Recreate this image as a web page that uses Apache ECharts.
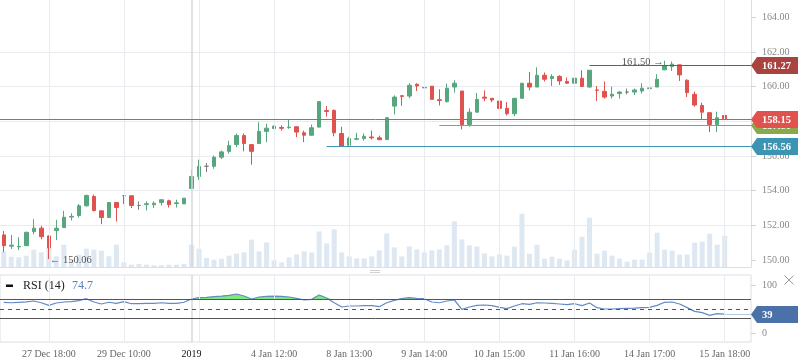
<!DOCTYPE html>
<html><head><meta charset="utf-8">
<script src="https://cdn.jsdelivr.net/npm/echarts@6/dist/echarts.min.js"></script>
<style>html,body{margin:0;padding:0;background:#fff;}#c{width:798px;height:363px;}</style>
</head><body><div id="c"></div>
<script>
// ---------- data ----------
const openP  = [151.45,150.80,150.76,150.83,151.64,151.84,151.39,151.70,151.87,152.48,152.57,153.13,153.67,152.84,152.45,153.32,153.71,153.71,153.15,153.20,153.19,153.32,153.42,153.26,153.24,154.13,154.82,155.41,155.41,155.93,156.27,156.66,157.18,156.66,156.72,157.42,157.59,157.65,157.64,157.69,157.34,157.20,157.67,158.62,158.63,157.30,156.62,156.97,157.01,157.10,157.05,156.95,158.88,159.48,159.46,160.14,159.93,160.03,159.25,159.14,159.98,159.75,157.82,158.53,159.40,159.33,159.17,158.75,158.44,159.33,160.20,159.98,160.66,160.47,160.59,160.30,160.20,160.49,159.98,159.81,159.73,159.46,159.60,159.69,159.69,159.75,159.89,159.98,160.97,161.16,161.26,160.37,159.56,158.92,158.50,157.82,158.34];
const closeP = [150.83,150.86,150.79,151.60,151.84,151.35,150.70,151.84,152.47,152.52,153.13,153.73,152.86,152.45,153.32,153.03,153.71,153.15,153.15,153.25,153.28,153.48,153.19,153.30,153.57,154.82,155.40,155.41,155.93,156.24,156.60,157.18,156.72,156.27,157.42,157.61,157.72,157.60,157.67,157.38,157.20,157.63,159.14,158.57,157.34,156.56,157.01,157.00,157.14,157.05,156.94,158.21,159.40,159.44,160.08,160.04,159.96,159.27,159.21,159.91,160.20,157.82,158.53,159.27,159.34,159.23,158.75,158.44,159.33,160.20,159.98,160.66,160.43,160.59,160.33,160.20,160.49,160.01,160.95,159.79,159.40,159.56,159.69,159.69,159.81,159.91,159.93,160.43,161.20,161.30,160.68,159.66,158.94,158.53,157.82,158.21,158.15];
const lowP   = [150.45,150.64,150.58,150.81,151.49,151.20,150.06,151.16,151.87,152.28,152.45,153.09,152.80,152.07,152.43,152.22,153.24,153.00,152.90,152.86,153.00,153.15,153.03,153.03,153.24,154.13,154.63,155.08,155.27,155.83,156.14,156.51,156.27,155.50,156.72,156.80,157.55,157.47,157.57,157.09,156.80,157.18,157.65,158.27,157.14,156.56,156.60,156.91,156.89,156.95,156.93,156.95,158.40,158.90,159.33,159.75,159.89,159.27,158.92,159.08,159.66,157.53,157.69,158.53,159.17,159.11,158.56,158.34,158.30,159.33,159.79,159.98,160.30,160.04,160.10,160.18,159.89,160.01,159.94,159.17,159.31,159.31,159.31,159.56,159.52,159.60,159.40,159.98,160.97,160.91,160.33,159.40,158.85,158.07,157.38,157.38,157.95];
const highP  = [151.68,151.45,151.32,151.64,152.36,151.97,151.42,152.32,152.84,152.70,153.23,153.77,153.77,152.84,153.35,153.35,153.71,153.71,153.38,153.38,153.38,153.48,153.48,153.48,153.57,155.21,155.79,155.60,156.03,156.32,156.89,157.30,157.30,156.66,157.95,157.86,157.77,157.78,158.11,157.69,157.47,157.82,159.16,158.88,158.69,157.69,157.11,157.34,157.30,157.47,157.18,158.21,159.50,159.50,160.20,160.20,160.37,160.03,159.85,160.18,160.37,159.75,158.75,159.64,159.79,159.33,159.33,159.11,159.33,160.20,160.85,161.12,160.82,160.72,160.66,160.53,160.49,160.95,160.95,160.04,160.30,160.01,159.75,159.89,159.89,160.20,160.20,160.72,161.50,161.45,161.26,160.43,159.72,159.08,158.50,158.56,158.73];
const volume = [15.6,10.3,9.7,11.3,17.3,14.7,19,10.7,22.3,7.3,12.3,18.3,17.3,16.3,10.7,22.3,4.7,2.3,3,2.3,1.7,1.7,2.3,2.3,3,22.3,18.3,9,7.3,8.3,11.3,13.3,14.7,27.3,15.6,24.6,6.6,4.6,9.6,12.6,15.6,14.6,35.6,23.6,37.6,14.6,10.6,8.6,8.6,10.6,16.6,33.6,19.6,10.6,20.6,17.6,14.6,16.6,17.6,21.6,45.6,27.6,21.6,20.6,13.6,10.6,12.6,11.3,20.3,53.3,13.3,22.3,8.3,10.3,8.3,6.6,17.3,30.3,49.3,13.3,16.3,11.3,8.3,5.3,7.3,7.3,14.3,34.3,17.3,16.3,12.3,12.3,24.3,25.3,33.3,22.3,31.3];
const rsi = [64,63,64,65,66.7,63,57.6,62.5,64.6,65.3,67.4,71.5,64.6,60.4,64,61.8,65.3,61,61,61.8,61.8,63,61.8,61.8,64,70.8,73.6,74.3,75.7,77,78.5,81.2,77,70.8,75,76.4,77,76.4,75,72.2,68.75,70.1,79.2,72.9,63,54.2,56.25,56.25,56.9,56.9,54.8,63,68,71.5,73.6,72.2,71.5,64.6,63,66.7,68.75,49.3,54.2,57.6,58.3,56.9,53.5,50.7,56.25,61,59.7,63,62.5,61.8,60.4,59,61,56.9,62.5,52.8,50,50,50.7,51.4,52,52.8,53.5,57.6,64,64.6,60.4,52.8,45.1,42.4,36.8,40.2,39.2];
const categoryCount = 100;
const tickIndex  = [6,16,25,36,46,56,66,76,86,96];
const tickLabels = ['27 Dec 18:00','29 Dec 10:00','2019','4 Jan 12:00','8 Jan 13:00','9 Jan 14:00','10 Jan 15:00','11 Jan 16:00','14 Jan 17:00','15 Jan 18:00'];
const gridIndexLines = [6,16,26,36,46,56,66,76,86,96];
const yearIndex = 25;
const priceTicks = [150,152,154,156,158,160,162,164];
const rsiTicks = [0,100];
const rsiLevels = [70,50,30];
const levelValues = [156.56,157.80,158.15,161.27];
const levelStart  = [43,58,0,78];
const highMarkIndex = 88;
const lowMarkIndex = 6;
const rsiLegendValue = '74.7';

// ---------- build ----------
const FF = '"Liberation Serif", "Times New Roman", serif';
const UP = '#58a67e', DOWN = '#e0524e';
const levelColors = ['#3c93b2','#8aa84c','#e0524e','#a8433f'];
const categories = Array.from({length: categoryCount}, (_, i) => String(i));
const labelAt = {}; tickIndex.forEach((ix, k) => labelAt[ix] = tickLabels[k]);
const lastIdx = openP.length - 1;
const candleData = openP.map((o, i) => [o, closeP[i], lowP[i], highP[i]]);

function tagItem(api, value, color, text, fullStart) {
  const p0 = api.coord([api.value(0), value]);
  const half = api.size([1, 0])[0] / 2;
  const pEnd = api.coord([categoryCount - 1, value]);
  const x1 = pEnd[0] + half;
  const x0 = fullStart ? p0[0] - half : p0[0];
  const y = Math.round(p0[1]) + 0.5;
  const h = 8.5;
  return [
    {type: 'line', shape: {x1: x0, y1: y, x2: x1, y2: y}, style: {stroke: color.line, lineWidth: 1}},
    {type: 'polygon', shape: {points: [[x1, y], [x1 + 6, y - h], [x1 + 47, y - h], [x1 + 47, y + h], [x1 + 6, y + h]]}, style: {fill: color.tag}},
    {type: 'text', style: {text: text, x: x1 + 11, y: y + 0.5, align: 'left', verticalAlign: 'middle', fill: '#fff', font: 'bold 10.5px ' + FF}}
  ];
}

const option = {
  animation: false,
  backgroundColor: '#fff',
  grid: [
    {left: 0, right: 47, top: 0, height: 267},
    {left: 0, right: 47, top: 275, height: 67, show: true, borderColor: '#dadfe5', borderWidth: 1}
  ],
  xAxis: [
    {type: 'category', gridIndex: 0, data: categories, boundaryGap: true,
     axisLine: {show: true, lineStyle: {color: '#dadfe5'}}, axisTick: {show: false}, axisLabel: {show: false}, splitLine: {show: false}},
    {type: 'category', gridIndex: 1, data: categories, boundaryGap: true,
     axisLine: {show: false}, axisTick: {show: false}, splitLine: {show: false},
     axisLabel: {show: true, interval: 0, margin: 7, color: '#666', fontSize: 10, fontFamily: FF,
       formatter: (v, idx) => { const t = labelAt[idx]; if (!t) return ''; return t === '2019' ? '{y|2019}' : t; },
       rich: {y: {color: '#111', fontSize: 10, fontFamily: FF}}}}
  ],
  yAxis: [
    {type: 'value', gridIndex: 0, position: 'right', min: 149.6, max: 165.0, splitNumber: 8, scale: true,
     axisLine: {show: true, lineStyle: {color: '#dadfe5'}},
     axisTick: {show: true, length: 5, customValues: priceTicks, lineStyle: {color: '#d0d4da'}},
     axisLabel: {show: true, margin: 11, color: '#888', fontSize: 10, fontFamily: FF, customValues: priceTicks,
       formatter: v => (Math.abs(v / 2 - Math.round(v / 2)) < 1e-6 ? v.toFixed(2) : '')},
     splitLine: {show: true, showMinLine: false, showMaxLine: false, lineStyle: {color: '#e8ebf0'}}},
    {type: 'value', gridIndex: 0, min: 0, max: 267, show: false},
    {type: 'value', gridIndex: 1, position: 'right', min: -18.75, max: 120.83,
     axisLine: {show: false},
     axisTick: {show: true, length: 5, customValues: rsiTicks, lineStyle: {color: '#d0d4da'}},
     axisLabel: {show: true, margin: 11, color: '#888', fontSize: 10, fontFamily: FF, customValues: rsiTicks,
       formatter: v => (v === 0 || v === 100 ? String(v) : '')},
     splitLine: {show: false}}
  ],
  series: [
    {type: 'bar', xAxisIndex: 0, yAxisIndex: 1, data: volume, barWidth: 5, z: 1, silent: true,
     itemStyle: {color: '#dde8f2'},
     markLine: {silent: true, symbol: 'none', label: {show: false}, animation: false,
       data: gridIndexLines.map(i => ({xAxis: String(i), lineStyle: {color: '#e8ebf0', width: 1, type: 'solid'}}))
         .concat([{xAxis: String(yearIndex), lineStyle: {color: '#d6d8db', width: 1.5, type: 'solid'}}])}},
    {type: 'candlestick', xAxisIndex: 0, yAxisIndex: 0, data: candleData, barWidth: 4, z: 3, silent: true,
     itemStyle: {color: UP, color0: DOWN, borderColor: UP, borderColor0: DOWN, borderColorDoji: '#7d7d7d', borderWidth: 1},
     markPoint: {silent: true, symbol: 'circle', symbolSize: 0, animation: false,
       data: [
         {coord: [String(highMarkIndex), highP[highMarkIndex]],
          label: {show: true, position: 'left', distance: 1, offset: [0, 2], color: '#555', fontSize: 10.5, fontFamily: FF,
                  formatter: highP[highMarkIndex].toFixed(2) + ' \u2192'}},
         {coord: [String(lowMarkIndex), lowP[lowMarkIndex]],
          label: {show: true, position: 'right', distance: 1, offset: [0, 1], color: '#555', fontSize: 10.5, fontFamily: FF,
                  formatter: '\u2190 ' + lowP[lowMarkIndex].toFixed(2)}}
       ]}},
    {type: 'custom', xAxisIndex: 0, yAxisIndex: 0, clip: false, z: 5, silent: true,
     data: levelValues.map((v, k) => [levelStart[k], v, k]),
     encode: {x: 0, y: 1},
     renderItem: (params, api) => {
       const k = api.value(2);
       const v = api.value(1);
       return {type: 'group', children: tagItem(api, v, {line: levelColors[k], tag: levelColors[k]}, v.toFixed(2), levelStart[k] === 0)};
     }},
    {type: 'line', xAxisIndex: 1, yAxisIndex: 2, data: rsi.map(v => Math.max(v, 70)), symbol: 'none', z: 2, silent: true,
     lineStyle: {width: 0}, areaStyle: {origin: 70, color: '#7ee87e', opacity: 1},
     markLine: {silent: true, symbol: 'none', label: {show: false}, animation: false,
       data: gridIndexLines.map(i => ({xAxis: String(i), lineStyle: {color: '#e8ebf0', width: 1, type: 'solid'}}))
         .concat([{xAxis: String(yearIndex), lineStyle: {color: '#d6d8db', width: 1.5, type: 'solid'}}])}},
    {type: 'line', xAxisIndex: 1, yAxisIndex: 2, data: rsi, symbol: 'none', z: 4, silent: true,
     lineStyle: {color: '#6589c6', width: 1.2},
     markLine: {silent: true, symbol: 'none', label: {show: false}, animation: false,
       data: rsiLevels.map(v => ({yAxis: v, lineStyle: {color: '#555', width: 1, type: v === 50 ? [4, 4] : 'solid'}}))}},
    {type: 'custom', xAxisIndex: 1, yAxisIndex: 2, clip: false, z: 6, silent: true,
     data: [[lastIdx, rsi[lastIdx]]],
     encode: {x: 0, y: 1},
     renderItem: (params, api) => {
       const v = api.value(1);
       return {type: 'group', children: tagItem(api, v, {line: '#b9cbe6', tag: '#4a72a8'}, v.toFixed(0), false)};
     }}
  ],
  graphic: [
    {type: 'rect', shape: {x: 6, y: 284.5, width: 7, height: 2.5}, style: {fill: '#111'}},
    {type: 'text', x: 23, y: 286, style: {text: 'RSI (14)', fill: '#222', font: '12px ' + FF, verticalAlign: 'middle'}},
    {type: 'text', x: 72, y: 286, style: {text: rsiLegendValue, fill: '#5b80c0', font: '12px ' + FF, verticalAlign: 'middle'}},
    {type: 'line', shape: {x1: 784.5, y1: 275.5, x2: 793.5, y2: 284.5}, style: {stroke: '#999', lineWidth: 1}},
    {type: 'line', shape: {x1: 793.5, y1: 275.5, x2: 784.5, y2: 284.5}, style: {stroke: '#999', lineWidth: 1}},
    {type: 'line', shape: {x1: 370, y1: 270.5, x2: 380, y2: 270.5}, style: {stroke: '#d0d0d0', lineWidth: 1}},
    {type: 'line', shape: {x1: 370, y1: 272.5, x2: 380, y2: 272.5}, style: {stroke: '#d0d0d0', lineWidth: 1}}
  ]
};
const chart = echarts.init(document.getElementById('c'), null, {renderer: 'canvas'});
chart.setOption(option);
</script>
</body></html>
